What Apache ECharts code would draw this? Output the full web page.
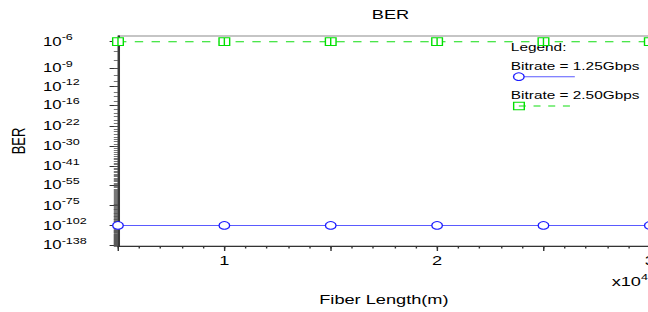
<!DOCTYPE html>
<html>
<head>
<meta charset="utf-8">
<script src="https://cdn.jsdelivr.net/npm/echarts@6/dist/echarts.min.js"></script>
<style>
  html, body { margin: 0; padding: 0; background: #fff; overflow: hidden; }
  /* the reference is drawn narrow and stretched sideways */
  #chart { width: 463px; height: 312px; transform: scaleX(1.3996); transform-origin: 0 0; }
</style>
</head>
<body>
<div id="chart"></div>
<script>
const fiberLength = [5000, 10000, 15000, 20000, 25000, 30000];
const ber125 = [1e-102, 1e-102, 1e-102, 1e-102, 1e-102, 1e-102];
const ber250 = [1e-6, 1e-6, 1e-6, 1e-6, 1e-6, 1e-6];
const yTickExp = [6, 9, 12, 16, 22, 30, 41, 55, 75, 102, 138];
const seriesNames = ["Bitrate = 1.25Gbps", "Bitrate = 2.50Gbps"];

const font = "Arial, 'Liberation Sans', sans-serif";

// y is drawn as log10(-log10(BER)), top to bottom
const toY = (ber) => Math.log10(-Math.log10(ber));

const minorExp = [];
for (let e = 6; e <= 140; e++) minorExp.push(Math.log10(e));

const chart = echarts.init(document.getElementById("chart"), null, { renderer: "svg" });

const yMin = Math.log10(5.5);
const yMax = Math.log10(140);

const option = {
  animation: false,
  textStyle: { fontFamily: font },
  title: {
    text: "BER",
    left: 274,
    textAlign: "center",
    top: 3,
    textStyle: { fontSize: 13, fontWeight: "normal", color: "#000", fontFamily: font },
  },
  grid: {
    left: 84.3,
    right: -1.3,
    top: 36,
    bottom: 66,
    show: true,
    borderColor: "#8c8c8c",
    borderWidth: 1,
    outerBoundsMode: "none",
  },
  xAxis: [
    {
      type: "value",
      min: 5000,
      max: 30000,
      interval: 5000,
      position: "bottom",
      name: "Fiber Length(m)",
      nameLocation: "middle",
      nameGap: 47,
      nameTextStyle: { fontSize: 13, color: "#000", fontFamily: font },
      axisLine: { show: true, lineStyle: { color: "#333", width: 1 } },
      axisTick: { show: true, length: 5, lineStyle: { color: "#333" } },
      axisLabel: {
        margin: 8,
        fontSize: 13,
        color: "#000",
        formatter: (v) => (v % 10000 === 0 ? String(v / 10000) : ""),
      },
      splitLine: { show: false },
    },
    {
      type: "value",
      min: 5000,
      max: 30000,
      interval: 1000,
      position: "bottom",
      axisLine: { show: false },
      axisTick: { show: true, length: 2.5, lineStyle: { color: "#333" } },
      axisLabel: { show: false },
      splitLine: { show: false },
    },
  ],
  yAxis: [
    {
      type: "value",
      inverse: true,
      min: yMin,
      max: yMax,
      position: "left",
      name: "BER",
      nameLocation: "middle",
      nameGap: 61,
      nameRotate: 90,
      nameTextStyle: { fontSize: 13, color: "#000", fontFamily: font },
      axisLine: { show: true, lineStyle: { color: "#3a3a3a", width: 1.5 } },
      axisTick: {
        show: true,
        length: 6,
        customValues: yTickExp.map((e) => Math.log10(e)),
        lineStyle: { color: "#333" },
      },
      axisLabel: {
        customValues: yTickExp.map((e) => Math.log10(e)),
        align: "left",
        margin: 53.6,
        formatter: (v) => "{b|10}{s|-" + Math.round(Math.pow(10, v)) + "}",
        rich: {
          b: { fontSize: 12, color: "#000", fontFamily: font, verticalAlign: "middle" },
          s: { fontSize: 9, color: "#000", fontFamily: font, verticalAlign: "bottom", padding: [0, 0, 9, 0] },
        },
      },
      splitLine: { show: false },
    },
    {
      // one small tick per integer exponent
      type: "value",
      inverse: true,
      min: yMin,
      max: yMax,
      position: "left",
      axisLine: { show: false },
      axisTick: {
        show: true,
        length: 3,
        customValues: minorExp,
        lineStyle: { color: "#555", width: 0.8 },
      },
      axisLabel: { show: false },
      splitLine: { show: false },
    },
  ],
  series: [
    {
      name: seriesNames[0],
      type: "line",
      xAxisIndex: 0,
      yAxisIndex: 0,
      data: fiberLength.map((x, i) => [x, toY(ber125[i])]),
      symbol: "circle",
      symbolSize: 7.6,
      lineStyle: { color: "#5a5aff", width: 1 },
      itemStyle: { color: "#fff", borderColor: "#1c1cff", borderWidth: 1 },
      clip: false,
      z: 3,
    },
    {
      name: seriesNames[1],
      type: "line",
      xAxisIndex: 0,
      yAxisIndex: 0,
      data: fiberLength.map((x, i) => [x, toY(ber250[i])]),
      symbol: "path://M0,0H10V10H0Z M5,0V10",
      symbolSize: [7.6, 7.6],
      lineStyle: { color: "#11dd11", width: 1, type: [6, 6] },
      itemStyle: { color: "#fff", borderColor: "#00e000", borderWidth: 1 },
      clip: false,
      z: 3,
    },
  ],
  graphic: [
    {
      type: "text",
      left: 437,
      top: 272,
      style: {
        text: "{b|x10}{s|4}",
        rich: {
          b: { fontSize: 13, fill: "#000", fontFamily: font, verticalAlign: "middle" },
          s: { fontSize: 9, fill: "#000", fontFamily: font, verticalAlign: "bottom", padding: [0, 0, 9, 0] },
        },
      },
    },
    // legend block
    { type: "text", x: 365, y: 42, style: { text: "Legend:", fill: "#000", font: "11px " + font } },
    { type: "text", x: 365, y: 60.5, style: { text: seriesNames[0], fill: "#000", font: "11px " + font } },
    { type: "line", shape: { x1: 370.7, y1: 76.7, x2: 410.7, y2: 76.7 }, style: { stroke: "#5a5aff", lineWidth: 1 } },
    { type: "circle", shape: { cx: 370.7, cy: 76.7, r: 3.8 }, style: { fill: "#fff", stroke: "#1c1cff", lineWidth: 1 } },
    { type: "text", x: 365, y: 90, style: { text: seriesNames[1], fill: "#000", font: "11px " + font } },
    { type: "rect", shape: { x: 367, y: 102.2, width: 7.6, height: 7.6 }, style: { fill: "none", stroke: "#00e000", lineWidth: 1 } },
    { type: "line", shape: { x1: 370.7, y1: 106, x2: 410.7, y2: 106 }, style: { stroke: "#11dd11", lineWidth: 1, lineDash: [5, 5.5] } },
  ],
};

chart.setOption(option);
</script>
</body>
</html>
